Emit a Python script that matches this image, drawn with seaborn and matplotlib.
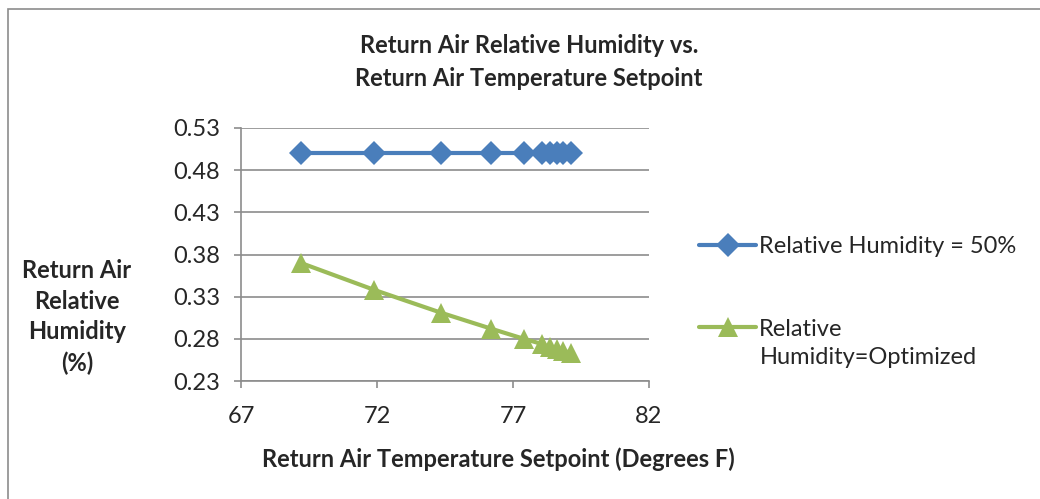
import matplotlib.pyplot as plt
import matplotlib.patches as mpatches
import seaborn as sns
import pandas as pd

# data
setpoint = [69.2, 71.9, 74.35, 76.2, 77.4, 78.05, 78.35, 78.6, 78.85, 79.15]
rh_50 = [0.50, 0.50, 0.50, 0.50, 0.50, 0.50, 0.50, 0.50, 0.50, 0.50]
rh_opt = [0.370, 0.338, 0.311, 0.292, 0.280, 0.274, 0.270, 0.268, 0.266, 0.263]
y_ticks = [0.23, 0.28, 0.33, 0.38, 0.43, 0.48, 0.53]
x_ticks = [67, 72, 77, 82]

sns.set_style('white')
plt.rcParams['font.family'] = ['Lato', 'DejaVu Sans']

df = pd.DataFrame({'setpoint': setpoint, 'rh_50': rh_50, 'rh_opt': rh_opt})

fig = plt.figure(figsize=(10.4, 4.99), dpi=100)
ax = fig.add_axes([241 / 1040, 1 - 381 / 499, 408 / 1040, 253 / 499])

sns.lineplot(data=df, x='setpoint', y='rh_50', ax=ax, color='#4a7ebb', lw=3,
             marker='D', markersize=12.5, markeredgewidth=0, label='Relative Humidity = 50%')
sns.lineplot(data=df, x='setpoint', y='rh_opt', ax=ax, color='#9bbb59', lw=3,
             marker='^', markersize=15, markeredgewidth=0, label='Relative')

ax.set_xlim(67, 82)
ax.set_ylim(0.23, 0.53)
ax.set_xticks(x_ticks)
ax.set_yticks(y_ticks)
ax.set_yticklabels([f'{v:.2f}' for v in y_ticks])
ax.yaxis.grid(True, color='#8c8c8c', lw=1.2)
ax.set_axisbelow(True)
for s in ['top', 'right']:
    ax.spines[s].set_visible(False)
for s in ['left', 'bottom']:
    ax.spines[s].set_color('#8c8c8c')
    ax.spines[s].set_linewidth(1.2)
ax.tick_params(axis='x', length=5, width=1.2, color='#8c8c8c', labelsize=17, pad=13)
ax.tick_params(axis='y', length=5, width=1.2, color='#8c8c8c', labelsize=17, pad=10)
ax.xaxis.set_ticks_position('bottom')
ax.yaxis.set_ticks_position('left')

ax.set_xlabel('Return Air Temperature Setpoint (Degrees F)', fontsize=17,
              fontweight='bold', ha='center', va='center')
ax.xaxis.set_label_coords(0.631, -0.308)
ax.set_ylabel('Return Air\nRelative\nHumidity\n(%)', fontsize=17, fontweight='bold',
              rotation=0, linespacing=1.4, ha='center', va='center')
ax.yaxis.set_label_coords(-0.402, 0.253)
fig.text(529 / 1040, 1 - 62 / 499, 'Return Air Relative Humidity vs.\nReturn Air Temperature Setpoint',
         ha='center', va='center', fontsize=17, fontweight='bold', linespacing=1.5)

leg = ax.legend(loc='upper left', bbox_to_anchor=(1.1, 0.61), frameon=False,
                fontsize=17, handlelength=2.4, handletextpad=0.13,
                labelspacing=2.6, borderaxespad=0)
fig.text(760 / 1040, 1 - 357 / 499, 'Humidity=Optimized', fontsize=17,
         ha='left', va='center')

fig.patches.append(mpatches.Rectangle((8 / 1040, -0.05), 1.1, 1 - 9 / 499 + 0.05,
                                      transform=fig.transFigure, fill=False,
                                      edgecolor='#8c8c8c', lw=1.2))

fig.savefig('out.png', dpi=100)
plt.close()
